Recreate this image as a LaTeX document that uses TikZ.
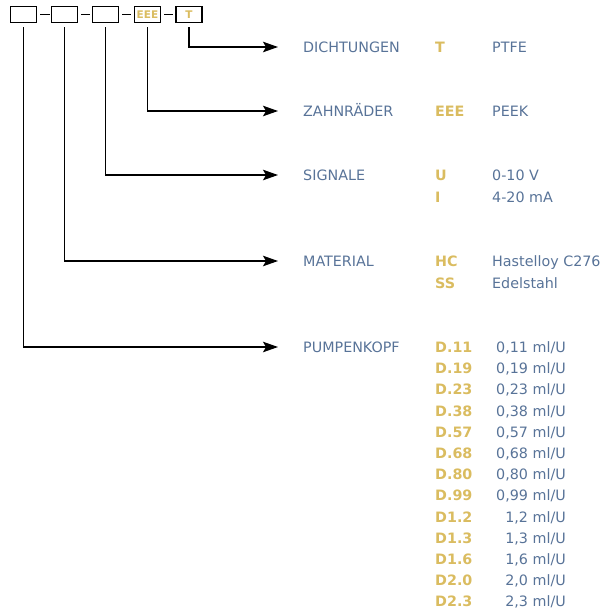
\documentclass[tikz,border=0pt]{standalone}
\usepackage{fontspec}
\setmainfont{DejaVu Sans}
\usetikzlibrary{arrows.meta}
\definecolor{lbl}{RGB}{88,115,152}
\definecolor{gold}{RGB}{218,188,96}
\begin{document}
\begin{tikzpicture}[x=1pt,y=-1pt,
  codebox/.style={draw, line width=1.4pt, minimum width=26pt, minimum height=15.5pt, inner sep=0pt, anchor=center, text=gold, font=\fontsize{10.5}{11}\selectfont\bfseries},
  conn/.style={line width=1.3pt},
  arr/.style={line width=1.3pt, -{Stealth[length=15pt,width=10.5pt,inset=3pt]}},
  lab/.style={anchor=base west, inner sep=0pt, text=lbl, font=\fontsize{14.3}{16}\selectfont},
  code/.style={anchor=base west, inner sep=0pt, text=gold, font=\fontsize{14.3}{16}\selectfont\bfseries},
  val/.style={anchor=base west, inner sep=0pt, text=lbl, font=\fontsize{14.3}{16}\selectfont},
  valr/.style={anchor=base east, inner sep=0pt, text=lbl, font=\fontsize{14.3}{16}\selectfont}]
\useasboundingbox (0,0) rectangle (605,616);
% boxes
\node[codebox] (b1) at (23.3,14.5) {};
\node[codebox] (b2) at (64.5,14.5) {};
\node[codebox] (b3) at (105.5,14.5) {};
\node[codebox] (b4) at (147.5,14.5) {EEE};
\node[codebox] (b5) at (189,14.5) {T};
\draw[conn] (b1.east) ++(3,0) -- ++(9.5,0);
\draw[conn] (b2.east) ++(3,0) -- ++(9,0);
\draw[conn] (b3.east) ++(3,0) -- ++(9,0);
\draw[conn] (b4.east) ++(3,0) -- ++(9,0);
% label column
\node[lab] (l1) at (303,52.5) {DICHTUNGEN};
\node[code] (c1) at (435,52.5) {T};
\node[val] (v1) at (492,52.5) {PTFE};
\node[lab] (l2) at (303,116.5) {ZAHNRÄDER};
\node[code] (c2) at (435,116.5) {EEE};
\node[val] (v2) at (492,116.5) {PEEK};
\node[lab] (l3) at (303,180.5) {SIGNALE};
\node[code] (c3) at (435,180.5) {U};
\node[val] (v3) at (492,180.5) {0-10 V};
\node[code] at (435,202) {I};
\node[val] at (492,202) {4-20 mA};
\node[lab] (l4) at (303,266.5) {MATERIAL};
\node[code] at (435,266.5) {HC};
\node[val] at (492,266.5) {Hastelloy C276};
\node[code] at (435,288) {SS};
\node[val] at (492,288) {Edelstahl};
\node[lab] (l5) at (303,352.5) {PUMPENKOPF};
\foreach \c/\v [count=\i from 0] in {D.11/{0,11},D.19/{0,19},D.23/{0,23},D.38/{0,38},D.57/{0,57},D.68/{0,68},D.80/{0,80},D.99/{0,99},D1.2/{1,2},D1.3/{1,3},D1.6/{1,6},D2.0/{2,0},D2.3/{2,3}}{
  \node[code] (pc\i) at (435,352.5+21.2*\i) {\c};
  \node[valr] (pv\i) at (566,352.5+21.2*\i) {\v\ ml/U};
}
% connectors
\coordinate (t1) at (278,47);
\coordinate (t2) at (278,111);
\coordinate (t3) at (278,175);
\coordinate (t4) at (278,261);
\coordinate (t5) at (278,347);
\draw[arr] (b5.south) ++(0,4.5) |- (t1);
\draw[arr] (b4.south) ++(0,4.5) |- (t2);
\draw[arr] (b3.south) ++(0,4.5) |- (t3);
\draw[arr] (b2.south) ++(0,4.5) |- (t4);
\draw[arr] (b1.south) ++(0,4.5) |- (t5);
\end{tikzpicture}
\end{document}
